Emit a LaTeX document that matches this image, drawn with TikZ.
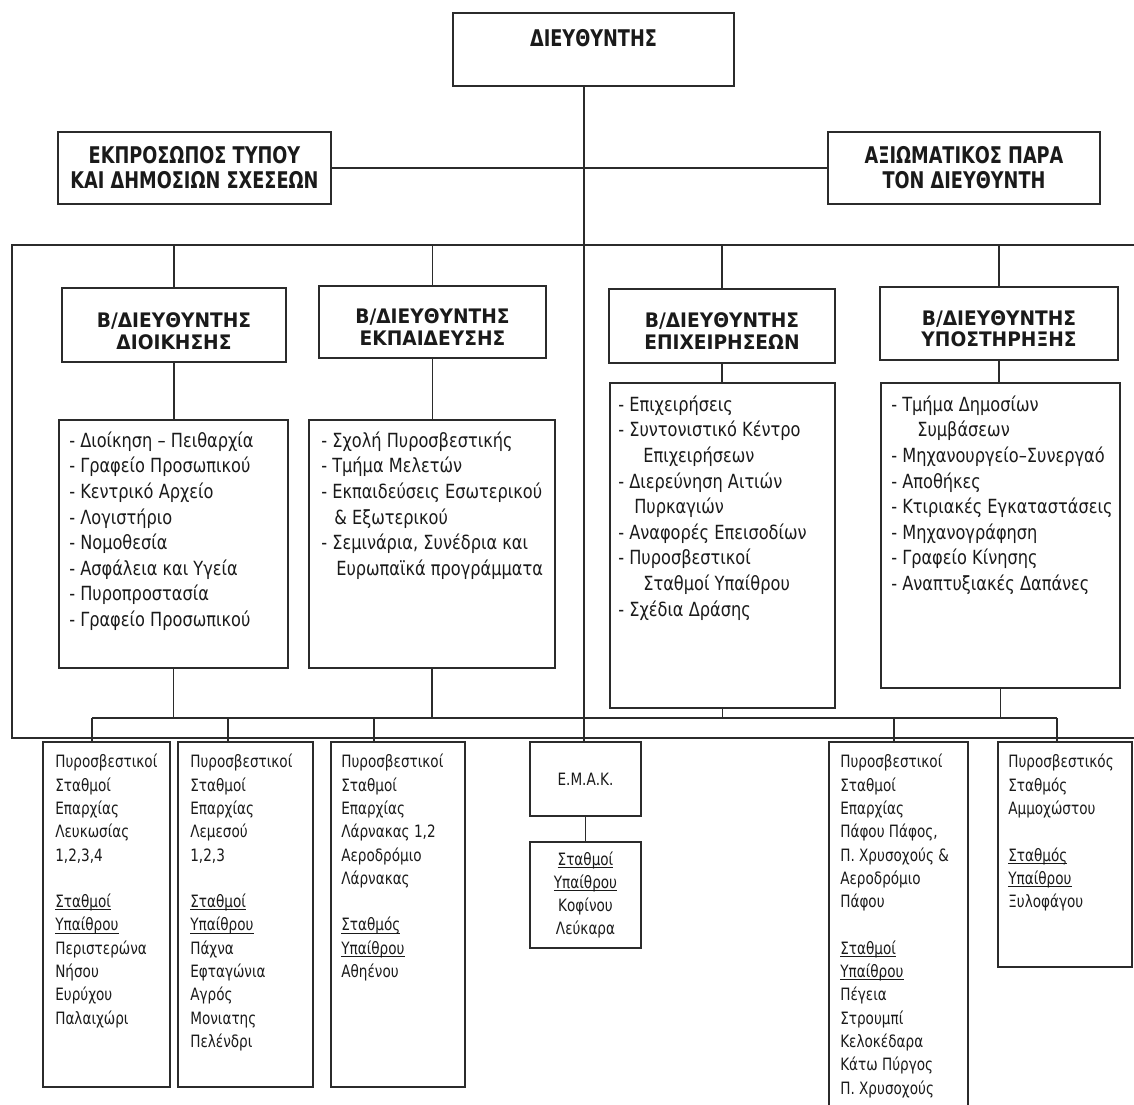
\documentclass[tikz,border=0pt]{standalone}
\usepackage{fontspec}
\setmainfont{DejaVu Sans}
\newfontfamily\tophd[FakeStretch=0.77]{DejaVu Sans}
\newfontfamily\bhd[FakeStretch=0.93]{DejaVu Sans}
\newfontfamily\bodyf[FakeStretch=0.83]{DejaVu Sans}
\newfontfamily\stf[FakeStretch=0.8]{DejaVu Sans}
\usetikzlibrary{calc}
\definecolor{lc}{HTML}{2B2B2B}
\definecolor{tc}{HTML}{1A1A1A}
\newcommand\myul[1]{\setbox0=\hbox{#1}\rlap{\rule[-2.6pt]{\wd0}{1pt}}\box0}
\begin{document}
\begin{tikzpicture}[x=1pt,y=-1pt,
  box/.style={draw=lc,line width=1.8pt,inner sep=0pt,text=tc},
  conn/.style={draw=lc,line width=1.3pt},
  tophdr/.style={font=\tophd\bfseries\fontsize{23}{25}\selectfont,align=center,text=tc},
  bhdr/.style={font=\bhd\bfseries\fontsize{20}{21.5}\selectfont,align=center,text=tc},
  listtxt/.style={font=\bodyf\fontsize{19.5}{25.6}\selectfont,align=left,anchor=north west,inner sep=0pt,text=tc},
  sttxt/.style={font=\stf\fontsize{17}{23.3}\selectfont,align=left,anchor=north west,inner sep=0pt,text=tc},
  sttxtc/.style={font=\stf\fontsize{17}{23.3}\selectfont,align=center},
]
\path[use as bounding box] (0,0) rectangle (1134,1104);
\clip (0,0) rectangle (1134,1104);

% top level
\node[box,minimum width=281pt,minimum height=73pt] (dir) at (593.5,49.5) {};
\node[tophdr] (dirt) at (593.5,38) {ΔΙΕΥΘΥΝΤΗΣ};
\node[box,tophdr,minimum width=273pt,minimum height=72pt] (press) at (194.5,168) {ΕΚΠΡΟΣΩΠΟΣ ΤΥΠΟΥ\\ΚΑΙ ΔΗΜΟΣΙΩΝ ΣΧΕΣΕΩΝ};
\node[box,tophdr,minimum width=272pt,minimum height=72pt] (aide) at (964,168) {ΑΞΙΩΜΑΤΙΚΟΣ ΠΑΡΑ\\ΤΟΝ ΔΙΕΥΘΥΝΤΗ};

% deputy directors
\node[box,minimum width=224pt,minimum height=74pt] (B1) at (174,325) {};
\node[bhdr] (B1t) at ($(B1.center)+(0,6)$) {Β/ΔΙΕΥΘΥΝΤΗΣ\\ΔΙΟΙΚΗΣΗΣ};
\node[box,minimum width=227pt,minimum height=72pt] (B2) at (432.5,322) {};
\node[bhdr] (B2t) at ($(B2.center)+(0,5)$) {Β/ΔΙΕΥΘΥΝΤΗΣ\\ΕΚΠΑΙΔΕΥΣΗΣ};
\node[box,minimum width=226pt,minimum height=74pt] (B3) at (722,326) {};
\node[bhdr] (B3t) at ($(B3.center)+(0,5)$) {Β/ΔΙΕΥΘΥΝΤΗΣ\\ΕΠΙΧΕΙΡΗΣΕΩΝ};
\node[box,minimum width=238pt,minimum height=73pt] (B4) at (999,323.5) {};
\node[bhdr] (B4t) at ($(B4.center)+(0,5)$) {Β/ΔΙΕΥΘΥΝΤΗΣ\\ΥΠΟΣΤΗΡΗΞΗΣ};

% content boxes
\node[box,minimum width=229pt,minimum height=248pt] (C1) at (173.5,544) {};
\node[listtxt] (C1t) at ($(C1.north west)+(11,12)$) {\rule{0pt}{16pt}- Διοίκηση – Πειθαρχία\\- Γραφείο Προσωπικού\\- Κεντρικό Αρχείο\\- Λογιστήριο\\- Νομοθεσία\\- Ασφάλεια και Υγεία\\- Πυροπροστασία\\- Γραφείο Προσωπικού};
\node[box,minimum width=246pt,minimum height=248pt] (C2) at (432,544) {};
\node[listtxt] (C2t) at ($(C2.north west)+(13,12)$) {\rule{0pt}{16pt}- Σχολή Πυροσβεστικής\\- Τμήμα Μελετών\\- Εκπαιδεύσεις Εσωτερικού\\\hspace*{13pt}\& Εξωτερικού\\- Σεμινάρια, Συνέδρια και\\\hspace*{15pt}Ευρωπαϊκά προγράμματα};
\node[box,minimum width=225pt,minimum height=325pt] (C3) at (722.5,545.5) {};
\node[listtxt] (C3t) at ($(C3.north west)+(9,13)$) {\rule{0pt}{16pt}- Επιχειρήσεις\\- Συντονιστικό Κέντρο\\\hspace*{25pt}Επιχειρήσεων\\- Διερεύνηση Αιτιών\\\hspace*{16pt}Πυρκαγιών\\- Αναφορές Επεισοδίων\\- Πυροσβεστικοί\\\hspace*{25pt}Σταθμοί Υπαίθρου\\- Σχέδια Δράσης};
\node[box,minimum width=239pt,minimum height=305pt] (C4) at (1000.5,535.5) {};
\node[listtxt] (C4t) at ($(C4.north west)+(11,13)$) {\rule{0pt}{16pt}- Τμήμα Δημοσίων\\\hspace*{26pt}Συμβάσεων\\- Μηχανουργείο–Συνεργαό\\- Αποθήκες\\- Κτιριακές Εγκαταστάσεις\\- Μηχανογράφηση\\- Γραφείο Κίνησης\\- Αναπτυξιακές Δαπάνες};

% stations
\node[box,minimum width=127pt,minimum height=345pt] (P1) at (106.5,914.5) {};
\node[sttxt] (P1t) at ($(P1.north west)+(13,12.5)$) {\rule{0pt}{14pt}Πυροσβεστικοί\\Σταθμοί\\Επαρχίας\\Λευκωσίας\\1,2,3,4\\[23.3pt]\myul{Σταθμοί}\\\myul{Υπαίθρου}\\Περιστερώνα\\Νήσου\\Ευρύχου\\Παλαιχώρι};
\node[box,minimum width=135pt,minimum height=345pt] (P2) at (245.5,914.5) {};
\node[sttxt] (P2t) at ($(P2.north west)+(13,12.5)$) {\rule{0pt}{14pt}Πυροσβεστικοί\\Σταθμοί\\Επαρχίας\\Λεμεσού\\1,2,3\\[23.3pt]\myul{Σταθμοί}\\\myul{Υπαίθρου}\\Πάχνα\\Εφταγώνια\\Αγρός\\Μονιατης\\Πελένδρι};
\node[box,minimum width=134pt,minimum height=345pt] (P3) at (398,914.5) {};
\node[sttxt] (P3t) at ($(P3.north west)+(11,12.5)$) {\rule{0pt}{14pt}Πυροσβεστικοί\\Σταθμοί\\Επαρχίας\\Λάρνακας 1,2\\Αεροδρόμιο\\Λάρνακας\\[23.3pt]\myul{Σταθμός}\\\myul{Υπαίθρου}\\Αθηένου};
\node[box,sttxtc,minimum width=111pt,minimum height=74pt] (emak) at (585.5,779) {\raisebox{-9pt}{Ε.Μ.Α.Κ.}};
\node[box,sttxtc,minimum width=111pt,minimum height=106pt] (sy) at (585.5,895) {\myul{Σταθμοί}\\\myul{Υπαίθρου}\\Κοφίνου\\Λεύκαρα};
\node[box,minimum width=139pt,minimum height=373pt] (P5) at (898.5,928.5) {};
\node[sttxt] (P5t) at ($(P5.north west)+(12,12.5)$) {\rule{0pt}{14pt}Πυροσβεστικοί\\Σταθμοί\\Επαρχίας\\Πάφου Πάφος,\\Π. Χρυσοχούς \&\\Αεροδρόμιο\\Πάφου\\[23.3pt]\myul{Σταθμοί}\\\myul{Υπαίθρου}\\Πέγεια\\Στρουμπί\\Κελοκέδαρα\\Κάτω Πύργος\\Π. Χρυσοχούς};
\node[box,minimum width=134pt,minimum height=225pt] (P6) at (1065,854.5) {};
\node[sttxt] (P6t) at ($(P6.north west)+(11,12.5)$) {\rule{0pt}{14pt}Πυροσβεστικός\\Σταθμός\\Αμμοχώστου\\[23.3pt]\myul{Σταθμός}\\\myul{Υπαίθρου}\\Ξυλοφάγου};

% frame and connectors
\coordinate (fTL) at (12,245);
\coordinate (fBL) at (12,738);
\coordinate (fTR) at (1140,245);
\coordinate (fBR) at (1140,738);
\draw[conn] (fTR) -- (fTL) -- (fBL) -- (fBR);
\coordinate (sTop) at ($(dir.south)+(-9.5,0)$);
\draw[conn] (sTop) -- (sTop |- emak.north);
\draw[conn] (press) -- (aide);
\foreach \b/\c in {B1/C1,B2/C2,B3/C3,B4/C4}{
  \draw[conn] (\b.north |- fTL) -- (\b.north);
  \draw[conn] (\b.south) -- (\b.south |- \c.north);
  \draw[conn] (\c.south) -- (\c.south |- 0,718);
}
\coordinate (busL) at (92,718);
\coordinate (busR) at (1057,718);
\coordinate (d2) at (228,718);
\coordinate (d3) at (374,718);
\coordinate (d5) at (894,718);
\draw[conn] (busL) -- (busR);
\draw[conn] (busL) -- (busL |- P1.north);
\draw[conn] (d2) -- (d2 |- P2.north);
\draw[conn] (d3) -- (d3 |- P3.north);
\draw[conn] (d5) -- (d5 |- P5.north);
\draw[conn] (busR) -- (busR |- P6.north);
\draw[conn] (emak) -- (sy);
\end{tikzpicture}
\end{document}
